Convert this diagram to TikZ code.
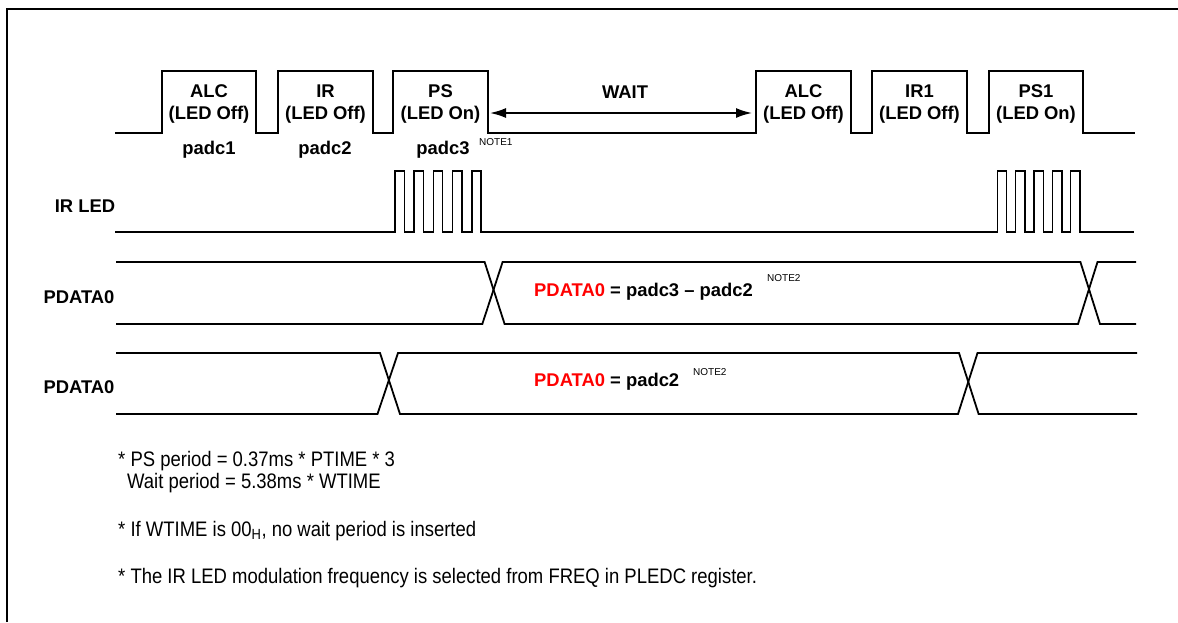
\documentclass[tikz,border=0pt]{standalone}
\usepackage{fontspec}
\setmainfont{Liberation Sans}
\newfontfamily\narrowfont{Liberation Sans}[FakeStretch=0.88]
\usetikzlibrary{arrows.meta}

\tikzset{
  wave/.style={line width=1.8pt, line join=miter},
  lbl/.style={font=\bfseries\fontsize{18.4}{22}\selectfont, align=center, inner sep=0pt},
  tag/.style={font=\fontsize{10}{12}\selectfont, inner sep=0pt, anchor=west},
  remark/.style={font=\narrowfont\fontsize{21}{25}\selectfont, anchor=west, inner sep=0pt},
}

\begin{document}
\begin{tikzpicture}[x=1pt, y=-1pt]
  \useasboundingbox (0,0) rectangle (1178,622);
  % frame
  \draw[line width=2pt] (6.5,622) -- (6.5,8.5) -- (1178,8.5);

  % conversion cycle
  \draw[wave] (115,133) -| (162,71) -| (256,133) -| (278,71) -| (373,133) -| (393,71) -| (488,133)
    -| (756,71) -| (851,133) -| (872,71) -| (967,133) -| (989,71) -| (1083,133) -- (1135,133);
  \node[lbl] (alcA) at (209,104) {ALC\\(LED Off)};
  \node[lbl] (irA) at (325.5,104) {IR\\(LED Off)};
  \node[lbl] (psA) at (440.5,104) {PS\\(LED On)};
  \node[lbl] (alcB) at (803.5,104) {ALC\\(LED Off)};
  \node[lbl] (irB) at (919.5,104) {IR1\\(LED Off)};
  \node[lbl] (psB) at (1036,104) {PS1\\(LED On)};
  \node[lbl] (padcA) at (209,150) {padc1};
  \node[lbl] (padcB) at (325,150) {padc2};
  \node[lbl] (padcC) at (443,150) {padc3};
  \node[tag] (noteA) at (479,142) {NOTE1};
  \node[lbl] (wait) at (625,92) {WAIT};
  \coordinate (waitL) at (490,113);
  \coordinate (waitR) at (752,113);
  \draw[wave, {Latex[length=16pt,width=10pt]}-{Latex[length=16pt,width=10pt]}] (waitL) -- (waitR);

  % IR LED
  \node[lbl] (irled) at (85,206) {IR LED};
  \draw[wave, line width=1.5pt] (115,232)
    foreach \i in {0,...,4} { -| ({395+19.2*\i},171) -| ({404.3+19.2*\i},232) }
    foreach \i in {0,...,4} { -| ({997.3+18.35*\i},171) -| ({1006.7+18.35*\i},232) }
    -- (1134,232);

  % PDATA0, first case
  \node[lbl] (pdA) at (79,297) {PDATA0};
  \draw[wave] (116,262) -- (484.6,262) -- (504.6,324) -- (1078,324) -- (1097.5,262) -- (1136,262);
  \draw[wave] (116,324) -- (482.3,324) -- (502.6,262) -- (1080.4,262) -- (1100,324) -- (1136,324);
  \node[lbl, anchor=west] (valA) at (534,292) {\textcolor{red}{PDATA0} = padc3 -- padc2};
  \node[tag] (noteB) at (767,278) {NOTE2};

  % PDATA0, second case
  \node[lbl] (pdB) at (79,387) {PDATA0};
  \draw[wave] (116,353) -- (380,353) -- (400,414) -- (958,414) -- (977.5,353) -- (1137,353);
  \draw[wave] (116,414) -- (377.5,414) -- (398,353) -- (959,353) -- (978.6,414) -- (1137,414);
  \node[lbl, anchor=west] (valB) at (534,382) {\textcolor{red}{PDATA0} = padc2};
  \node[tag] (noteC) at (693,372) {NOTE2};

  % remarks
  \node[remark] (remA) at (118,461) {* PS period = 0.37ms * PTIME * 3};
  \node[remark] (remB) at (127,483) {Wait period = 5.38ms * WTIME};
  \node[remark] (remC) at (118,531) {* If WTIME is 00\textsubscript{H}, no wait period is inserted};
  \node[remark] (remD) at (118,578) {* The IR LED modulation frequency is selected from FREQ in PLEDC register.};
\end{tikzpicture}
\end{document}
